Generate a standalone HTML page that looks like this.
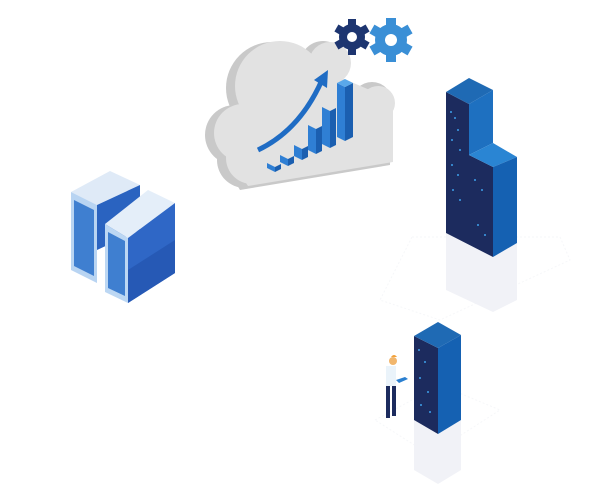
<!DOCTYPE html>
<html><head><style>html,body{margin:0;padding:0;background:#fff;}svg{display:block}</style></head>
<body>
<svg width="615" height="500" viewBox="0 0 615 500" xmlns="http://www.w3.org/2000/svg">
<!-- faint floor lines -->
<g stroke="#f6f7f9" stroke-width="1" fill="none" stroke-dasharray="2 2">
<polygon points="412,237 560,237 570,260 440,320 380,300"/>
<polygon points="375,420 440,385 500,410 430,455"/>
</g>
<!-- cloud back -->
<g fill="#c9c9c9">
<circle cx="235" cy="135" r="30"/>
<circle cx="272" cy="88" r="46"/>
<circle cx="323" cy="64" r="23"/>
<circle cx="372" cy="102" r="20"/>
<circle cx="245" cy="160" r="28"/>
<polygon points="210,140 240,190 390,165 392,100 300,60"/>
</g>
<g fill="#e2e2e2">
<circle cx="243" cy="133" r="29"/>
<circle cx="280" cy="86" r="45"/>
<circle cx="330" cy="63" r="21"/>
<circle cx="378" cy="103" r="17"/>
<circle cx="252" cy="158" r="26"/>
<polygon points="218,140 248,186 393,162 393,100 300,60"/>
</g>
<!-- gears -->
<g transform="translate(352,37)">
<circle r="13" fill="#1d3570"/>
<g fill="#1d3570"><rect x="-4" y="-18" width="8" height="36"/><rect x="-4" y="-18" width="8" height="36" transform="rotate(60)"/><rect x="-4" y="-18" width="8" height="36" transform="rotate(120)"/></g>
<circle r="5" fill="#fff"/></g>
<g transform="translate(391,40)">
<circle r="16" fill="#3a8fd6"/>
<g fill="#3a8fd6"><rect x="-5" y="-22" width="10" height="44"/><rect x="-5" y="-22" width="10" height="44" transform="rotate(60)"/><rect x="-5" y="-22" width="10" height="44" transform="rotate(120)"/></g>
<circle r="6" fill="#fff"/></g>
<!-- bars -->
<g>
<polygon points="267,163 275,167 275,172 267,168" fill="#2f7fd4"/><polygon points="275,167 281,164 281,169 275,172" fill="#1b5fb0"/>
<polygon points="280,155 288,159 288,166 280,162" fill="#2f7fd4"/><polygon points="288,159 294,156 294,163 288,166" fill="#1b5fb0"/>
<polygon points="294,145 302,149 302,160 294,156" fill="#2f7fd4"/><polygon points="302,149 308,146 308,157 302,160" fill="#1b5fb0"/>
<polygon points="308,125 316,129 316,154 308,150" fill="#2f7fd4"/><polygon points="316,129 322,126 322,151 316,154" fill="#1b5fb0"/>
<polygon points="322,107 330,111 330,148 322,144" fill="#2f7fd4"/><polygon points="330,111 336,108 336,145 330,148" fill="#1b5fb0"/>
<polygon points="337,83 345,87 345,141 337,137" fill="#2f7fd4"/><polygon points="345,87 353,83 353,137 345,141" fill="#1b5fb0"/>
<polygon points="337,83 345,79 353,83 345,87" fill="#5aa8ea"/>
</g>
<path d="M258,150 Q300,130 322,80" stroke="#1f6cc4" stroke-width="5" fill="none"/>
<polygon points="314,80 328,70 327,88" fill="#1f6cc4"/>
<!-- left servers -->
<g>
<polygon points="71,192 110,171 140,185 97,205" fill="#dfeaf7"/>
<polygon points="71,192 97,205 97,283 71,270" fill="#b8d4f2"/>
<polygon points="74,200 94,210 94,276 74,266" fill="#3f7fd0"/>
<polygon points="97,205 140,185 140,230 97,250" fill="#2a63c0"/>
<polygon points="105,224 148,190 175,203 128,238" fill="#e4eef9"/>
<polygon points="105,224 128,238 128,303 105,292" fill="#bcd7f3"/>
<polygon points="108,232 125,241 125,296 108,288" fill="#3f7fd0"/>
<polygon points="128,238 175,203 175,273 128,303" fill="#2f67c6"/>
<polygon points="128,270 175,240 175,273 128,303" fill="#2659b5"/>
</g>
<!-- tall tower -->
<polygon points="446,233 493,257 517,243 517,300 493,312 446,290" fill="#f1f2f7"/>
<polygon points="446,92 469,104 469,155 493,167 493,257 446,233" fill="#1c2b5e"/>
<polygon points="446,92 469,78 493,90 469,104" fill="#1f6ab4"/>
<polygon points="469,104 493,90 493,143 469,155" fill="#1e70c0"/>
<polygon points="469,155 493,143 517,157 493,167" fill="#2a85d3"/>
<polygon points="493,167 517,157 517,243 493,257" fill="#1561b2"/>
<g fill="#3ea0ea">
<circle cx="451" cy="112" r="1"/><circle cx="455" cy="118" r="1"/><circle cx="458" cy="130" r="1"/><circle cx="452" cy="140" r="1"/><circle cx="460" cy="150" r="1"/><circle cx="452" cy="165" r="1"/><circle cx="458" cy="175" r="1"/><circle cx="453" cy="190" r="1"/><circle cx="460" cy="200" r="1"/><circle cx="475" cy="180" r="1"/><circle cx="482" cy="190" r="1"/><circle cx="478" cy="225" r="1"/><circle cx="485" cy="235" r="1"/>
</g>
<!-- small tower -->
<polygon points="414,420 438,434 461,420 461,470 438,484 414,470" fill="#f1f2f7"/>
<polygon points="414,336 438,348 438,434 414,420" fill="#1c2b5e"/>
<polygon points="414,336 438,322 461,335 438,348" fill="#1f6ab4"/>
<polygon points="438,348 461,335 461,420 438,434" fill="#1561b2"/>
<g fill="#3ea0ea"><circle cx="419" cy="350" r="1"/><circle cx="425" cy="362" r="1"/><circle cx="420" cy="378" r="1"/><circle cx="428" cy="392" r="1"/><circle cx="421" cy="405" r="1"/><circle cx="430" cy="412" r="1"/></g>
<!-- person -->
<circle cx="393" cy="361" r="4" fill="#f1b66d"/>
<path d="M391,357 q3,-4 6,0" fill="#f2a23b"/>
<rect x="386" y="366" width="10" height="20" fill="#eaf3fa"/>
<rect x="386" y="386" width="4" height="32" fill="#1c2b5e"/>
<rect x="392" y="386" width="4" height="30" fill="#1c2b5e"/>
<polygon points="396,380 405,377 408,379 399,383" fill="#2a7fd0"/>
</svg>
</body></html>
